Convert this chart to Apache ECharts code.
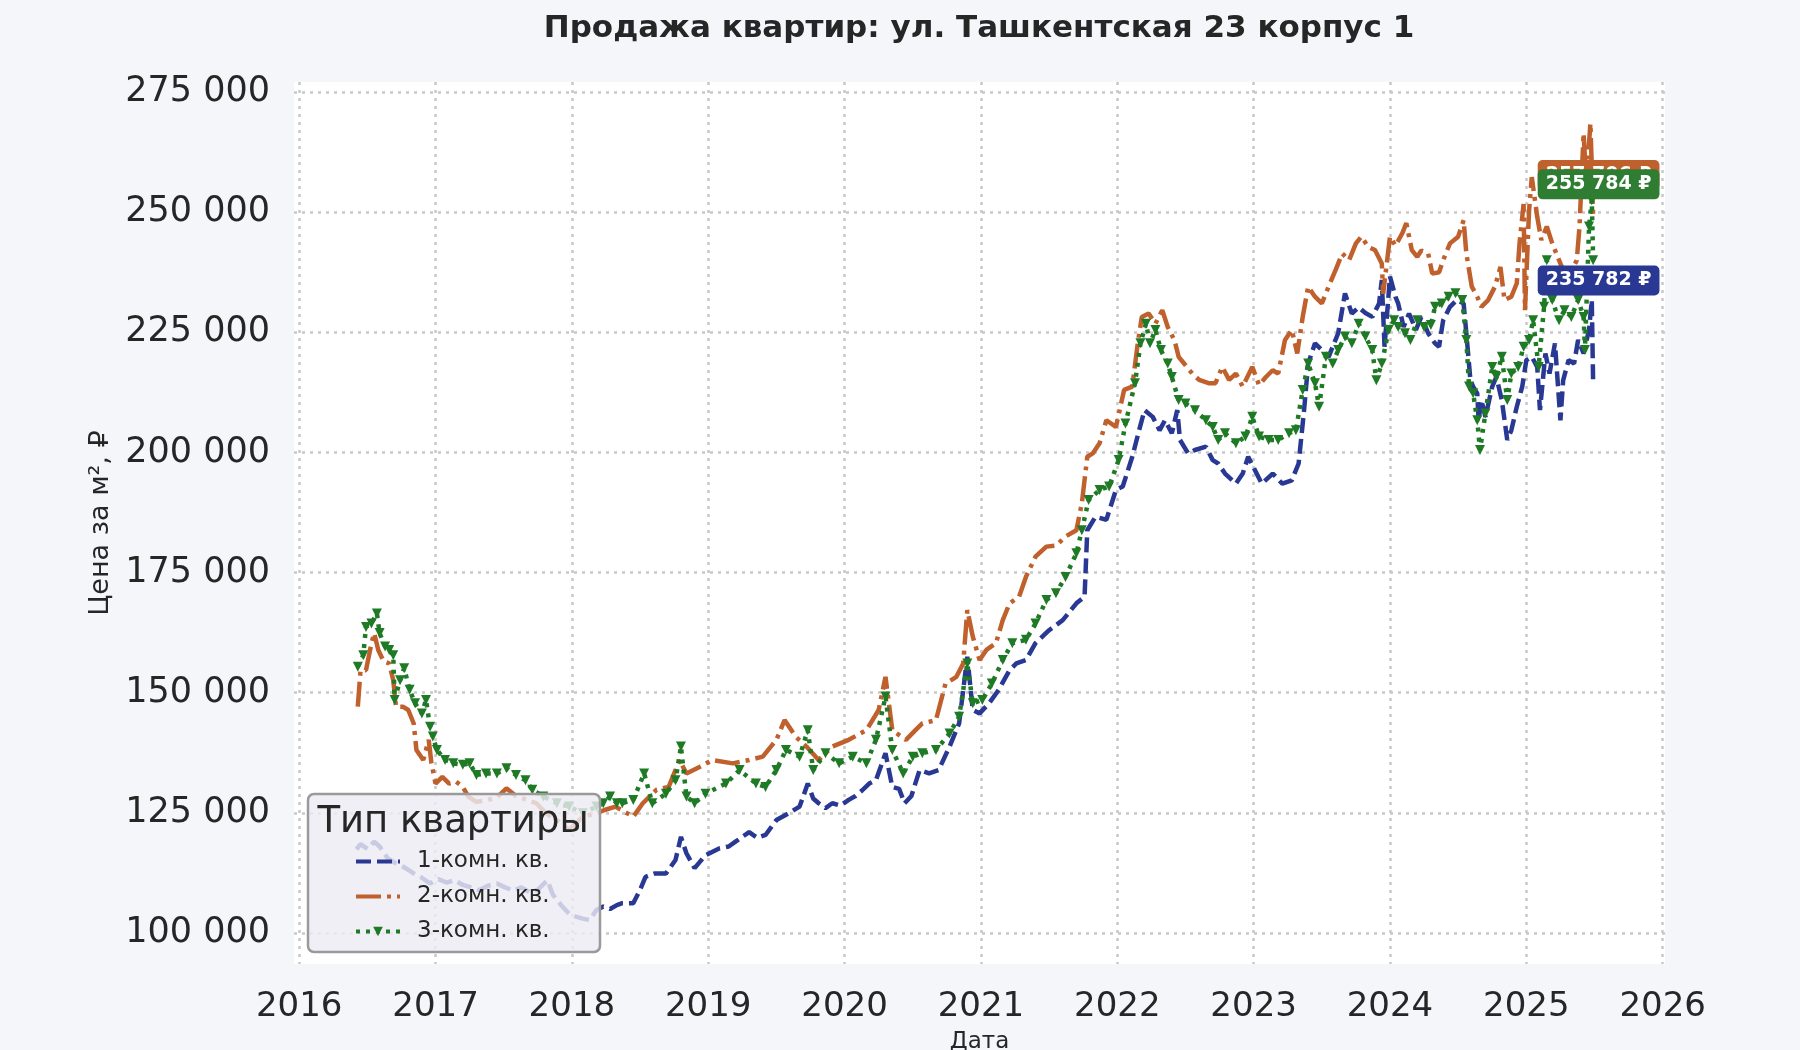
<!DOCTYPE html>
<html>
<head>
<meta charset="utf-8">
<script src="https://cdn.jsdelivr.net/npm/echarts@6/dist/echarts.min.js"></script>
<style>
html,body{margin:0;padding:0;background:#f5f6fa;}
#chart{width:1800px;height:1050px;}
</style>
</head>
<body>
<div id="chart"></div>
<script>
// ---------- DATA ----------
const seriesNames = ['1-комн. кв.', '2-комн. кв.', '3-комн. кв.'];
const xTickValues = [2016, 2017, 2018, 2019, 2020, 2021, 2022, 2023, 2024, 2025, 2026];
const yTickValues = [100000, 125000, 150000, 175000, 200000, 225000, 250000, 275000];
const lastLabels = [235782, 257706, 255784];

const dates1 = [2016.42,2016.45,2016.50,2016.55,2016.59,2016.65,2016.71,2016.78,2016.84,2016.90,2016.96,2017.02,2017.08,2017.14,2017.20,2017.26,2017.32,2017.38,2017.45,2017.51,2017.57,2017.63,2017.69,2017.75,2017.82,2017.86,2017.93,2017.98,2018.03,2018.08,2018.13,2018.18,2018.23,2018.28,2018.33,2018.37,2018.45,2018.50,2018.54,2018.61,2018.69,2018.76,2018.80,2018.84,2018.90,2018.98,2019.08,2019.15,2019.20,2019.30,2019.36,2019.42,2019.50,2019.59,2019.67,2019.73,2019.77,2019.81,2019.86,2019.91,2019.97,2020.03,2020.08,2020.13,2020.18,2020.23,2020.30,2020.35,2020.40,2020.44,2020.49,2020.55,2020.62,2020.69,2020.77,2020.84,2020.90,2020.94,2020.99,2021.06,2021.13,2021.21,2021.26,2021.33,2021.40,2021.50,2021.60,2021.70,2021.76,2021.78,2021.84,2021.92,2021.99,2022.04,2022.11,2022.16,2022.20,2022.26,2022.31,2022.35,2022.40,2022.44,2022.46,2022.52,2022.57,2022.65,2022.70,2022.74,2022.79,2022.87,2022.92,2022.96,2023.01,2023.06,2023.14,2023.21,2023.28,2023.33,2023.37,2023.40,2023.45,2023.50,2023.55,2023.62,2023.67,2023.72,2023.77,2023.82,2023.87,2023.92,2023.94,2023.96,2024.00,2024.04,2024.06,2024.10,2024.14,2024.19,2024.23,2024.28,2024.33,2024.36,2024.39,2024.44,2024.49,2024.54,2024.56,2024.59,2024.61,2024.64,2024.65,2024.67,2024.70,2024.75,2024.78,2024.82,2024.86,2024.89,2024.93,2024.97,2025.00,2025.04,2025.08,2025.10,2025.14,2025.17,2025.21,2025.25,2025.27,2025.31,2025.35,2025.38,2025.42,2025.46,2025.48,2025.49];
const values1 = [117400,118500,117500,119000,118000,115500,114500,113500,112400,111500,110300,111200,110500,111000,110000,109500,108900,109800,110300,109500,108800,109500,108500,109000,111000,108000,105500,104000,103400,103000,102700,104800,105500,105000,105800,106200,106200,109000,111700,112400,112400,115200,120000,116600,113500,116200,117600,118000,119000,121000,119800,120400,123500,124900,126300,131100,128000,127000,126000,127000,126500,127700,128500,129700,131100,131800,137400,130400,130000,127000,128500,133900,133200,133900,138800,143600,157500,146400,145700,147800,150600,154700,156100,156800,160300,163000,165100,168600,170000,183800,186600,186000,192200,192900,199100,204600,208800,207400,204600,206700,204000,208800,202600,199800,200500,201200,198400,197700,195600,193500,195600,199100,196300,193500,195600,193500,194200,197700,208800,218500,222700,221300,219900,224800,233100,228900,230200,229000,228200,231000,235900,222000,236600,232400,231000,226100,228900,225500,228200,224800,222700,222000,227500,230300,231700,231000,224800,215000,213700,212300,206700,210900,207400,213700,215700,210900,202600,204600,209500,213700,219200,219900,217800,208800,220600,216400,222700,206700,215000,219200,218500,223400,220600,225500,231700,214400];

const dates2 = [2016.43,2016.45,2016.49,2016.53,2016.55,2016.58,2016.62,2016.66,2016.69,2016.71,2016.76,2016.80,2016.84,2016.86,2016.91,2016.95,2016.97,2017.00,2017.05,2017.10,2017.15,2017.20,2017.24,2017.30,2017.37,2017.45,2017.52,2017.59,2017.66,2017.74,2017.81,2017.89,2017.98,2018.08,2018.18,2018.24,2018.32,2018.45,2018.52,2018.62,2018.71,2018.79,2018.84,2018.94,2019.03,2019.18,2019.30,2019.40,2019.50,2019.56,2019.64,2019.72,2019.81,2019.91,2020.03,2020.16,2020.25,2020.30,2020.35,2020.45,2020.52,2020.57,2020.67,2020.74,2020.82,2020.87,2020.90,2020.94,2020.99,2021.04,2021.11,2021.16,2021.21,2021.28,2021.33,2021.40,2021.48,2021.55,2021.62,2021.70,2021.74,2021.78,2021.82,2021.87,2021.92,2021.99,2022.05,2022.11,2022.15,2022.18,2022.23,2022.28,2022.33,2022.37,2022.42,2022.45,2022.49,2022.55,2022.60,2022.67,2022.72,2022.77,2022.82,2022.87,2022.92,2022.99,2023.04,2023.09,2023.14,2023.18,2023.23,2023.28,2023.32,2023.36,2023.40,2023.45,2023.50,2023.55,2023.60,2023.65,2023.70,2023.75,2023.79,2023.84,2023.89,2023.94,2023.95,2024.00,2024.04,2024.09,2024.12,2024.16,2024.20,2024.23,2024.28,2024.31,2024.36,2024.39,2024.44,2024.50,2024.54,2024.56,2024.60,2024.64,2024.67,2024.72,2024.77,2024.81,2024.84,2024.89,2024.93,2024.95,2024.98,2024.99,2025.02,2025.04,2025.08,2025.11,2025.15,2025.19,2025.22,2025.26,2025.32,2025.37,2025.39,2025.42,2025.44,2025.47,2025.48,2025.49];
const values2 = [147100,154700,154700,160300,162400,158900,156500,156100,152600,147100,147100,146400,143600,138100,136000,140200,135300,131100,132500,131100,131500,130400,128400,127300,127600,128200,130100,128500,127800,127000,124900,123500,121400,124200,124900,125600,126300,124200,127000,129800,130400,136000,133200,134600,136000,135300,136000,136700,140200,144300,140900,138800,136000,138800,140200,142200,146400,153300,142200,140200,142200,143600,144300,151900,153300,156100,167200,161700,156800,158900,160300,165100,168600,170000,174100,178300,180400,180600,182500,183800,189400,199100,199800,201900,206700,205300,213000,213700,222700,228200,228900,226800,229600,226100,223300,219900,218500,216400,215100,214400,214400,217800,215100,216400,213700,217800,214000,215700,217100,216400,223400,225500,220600,228200,234500,232400,231000,234500,237900,241400,240000,243500,244900,242800,242100,239300,233000,244900,243000,245600,247700,242100,240700,242000,241400,237200,237500,240000,243500,244900,248300,241400,234500,232400,230300,231700,234500,238600,231700,232400,235200,243500,251700,229600,250300,257300,249000,244200,247000,243500,241400,238600,237200,240000,247000,266400,256000,268500,259400,249000];

const dates3 = [2016.43,2016.47,2016.49,2016.53,2016.57,2016.59,2016.63,2016.66,2016.69,2016.70,2016.74,2016.77,2016.81,2016.85,2016.90,2016.93,2016.96,2016.98,2017.01,2017.07,2017.13,2017.20,2017.25,2017.30,2017.37,2017.45,2017.52,2017.59,2017.66,2017.71,2017.79,2017.89,2017.98,2018.08,2018.18,2018.23,2018.28,2018.33,2018.37,2018.45,2018.53,2018.59,2018.69,2018.76,2018.80,2018.84,2018.90,2018.98,2019.13,2019.23,2019.35,2019.42,2019.50,2019.57,2019.67,2019.73,2019.77,2019.86,2019.96,2020.06,2020.16,2020.23,2020.30,2020.35,2020.43,2020.50,2020.57,2020.67,2020.77,2020.84,2020.90,2020.94,2021.01,2021.08,2021.16,2021.23,2021.33,2021.40,2021.48,2021.55,2021.62,2021.70,2021.74,2021.79,2021.87,2021.94,2022.01,2022.06,2022.13,2022.17,2022.21,2022.24,2022.28,2022.32,2022.37,2022.40,2022.45,2022.50,2022.57,2022.65,2022.70,2022.74,2022.79,2022.87,2022.94,2022.99,2023.04,2023.11,2023.18,2023.26,2023.31,2023.36,2023.40,2023.45,2023.48,2023.53,2023.58,2023.62,2023.67,2023.72,2023.77,2023.82,2023.87,2023.90,2023.94,2023.99,2024.03,2024.06,2024.11,2024.15,2024.20,2024.25,2024.30,2024.33,2024.38,2024.43,2024.48,2024.53,2024.56,2024.58,2024.61,2024.64,2024.66,2024.70,2024.75,2024.78,2024.82,2024.86,2024.89,2024.94,2024.98,2025.02,2025.05,2025.09,2025.13,2025.15,2025.19,2025.24,2025.28,2025.33,2025.38,2025.42,2025.43,2025.46,2025.48,2025.49];
const values3 = [155400,157800,163700,164400,166500,162400,159600,158900,157800,148500,152600,155100,150600,147800,145700,148500,142900,140900,138100,136000,135300,135000,135300,132900,133200,133200,134300,132900,131800,129800,128400,127000,126300,124900,126300,127000,128400,127000,127000,127700,133200,127000,129000,131800,138800,128400,127000,129000,131100,133900,131100,130400,133900,138100,136700,142200,133900,137400,135300,136700,135300,140200,149200,138100,133200,136700,137400,138100,141500,145000,156100,147800,148500,151900,156800,160300,161000,164400,169300,170700,174100,179000,183800,190100,192200,192900,198400,206000,214400,222700,226800,222700,225500,221300,218500,215700,210900,210200,208800,206700,205300,202600,204000,201900,203300,207400,203300,202600,202600,204000,204600,213000,218500,214400,209500,219900,218500,221300,224100,222700,226800,224100,221300,215000,218500,225500,227500,226100,224800,223400,227500,226100,226500,230300,231000,232400,233100,231700,223400,213700,212300,206700,200500,208100,217800,215700,219900,210900,216400,217800,222000,223400,227500,217800,230300,240000,231700,227500,229600,228200,231700,228200,221300,247000,252500,240000];

// ---------- STYLE ----------
const colors = ['#283893', '#c0602c', '#1f7a25'];
const labelColors = ['#283893', '#c0602c', '#2e7d32'];
const FONT = 'DejaVu Sans';
const TXT = '#262626';

function zip(xs, ys) { return xs.map((x, i) => [x, ys[i]]); }
function fmtNum(v) { return String(Math.round(v)).replace(/\B(?=(\d{3})+(?!\d))/g, ' '); }

const dateArrays = [dates1, dates2, dates3];
const valueArrays = [values1, values2, values3];
const dashTypes = [[15, 6], [25, 6, 4, 6], [4, 6]];

const series = seriesNames.map((name, i) => {
  const ds = dateArrays[i];
  const s = {
    name: name,
    type: 'line',
    data: zip(ds, valueArrays[i]),
    color: colors[i],
    lineStyle: { width: 4.5, type: dashTypes[i], color: colors[i] },
    symbol: 'none',
    z: 2 + i,
    markPoint: {
      z: 10 + i,
      symbol: 'rect',
      symbolSize: 1,
      itemStyle: { color: 'rgba(0,0,0,0)' },
      label: {
        show: true,
        position: 'inside',
        formatter: fmtNum(lastLabels[i]) + ' ₽',
        backgroundColor: labelColors[i],
        color: '#ffffff',
        fontFamily: FONT,
        fontWeight: 'bold',
        fontSize: 19,
        padding: [6, 8, 5, 8],
        borderRadius: 5
      },
      data: [{ coord: [ds[ds.length - 1] + 0.04, lastLabels[i]] }]
    }
  };
  if (i === 2) {
    s.symbol = 'triangle';
    s.symbolRotate = 180;
    s.symbolSize = 10;
    s.showSymbol = true;
    s.showAllSymbol = true;
    s.itemStyle = { color: colors[i] };
  }
  return s;
});

const chart = echarts.init(document.getElementById('chart'), null, { renderer: 'canvas' });
chart.setOption({
  animation: false,
  backgroundColor: '#f5f6fa',
  textStyle: { fontFamily: FONT },
  title: {
    text: 'Продажа квартир: ул. Ташкентская 23 корпус 1',
    left: 974,
    top: 8,
    textAlign: 'center',
    textStyle: { fontFamily: FONT, fontSize: 31, fontWeight: 'bold', color: TXT }
  },
  grid: {
    left: 294, right: 135, top: 82, bottom: 86,
    outerBoundsMode: 'none',
    containLabel: false,
    show: true, backgroundColor: '#ffffff', borderWidth: 0
  },
  xAxis: {
    type: 'value',
    min: 2015.962,
    max: 2026.017,
    name: 'Дата',
    nameLocation: 'middle',
    nameGap: 67,
    nameTextStyle: { fontFamily: FONT, fontSize: 23, color: TXT },
    axisLine: { show: false },
    axisTick: { show: false, customValues: xTickValues },
    axisLabel: {
      customValues: xTickValues,
      fontFamily: FONT, fontSize: 34, color: TXT, margin: 26,
      formatter: v => String(Math.round(v))
    },
    splitLine: { show: true, lineStyle: { color: '#c8c8c8', width: 2.5, type: [3, 5] } }
  },
  yAxis: {
    type: 'value',
    min: 93550,
    max: 277080,
    name: 'Цена за м², ₽',
    nameLocation: 'middle',
    nameRotate: 90,
    nameGap: 176,
    nameTextStyle: { fontFamily: FONT, fontSize: 27, color: TXT },
    axisLine: { show: false },
    axisTick: { show: false, customValues: yTickValues },
    axisLabel: {
      customValues: yTickValues,
      fontFamily: FONT, fontSize: 35, color: TXT, margin: 24,
      formatter: v => fmtNum(v)
    },
    splitLine: { show: true, lineStyle: { color: '#c8c8c8', width: 2.5, type: [3, 5] } }
  },
  legend: {
    show: true,
    orient: 'vertical',
    left: 354,
    top: 850,
    padding: 0,
    itemGap: 12,
    itemWidth: 44,
    itemHeight: 12,
    lineStyle: { width: 4 },
    data: [
      { name: seriesNames[0], itemStyle: { opacity: 0 } },
      { name: seriesNames[1], itemStyle: { opacity: 0 } },
      { name: seriesNames[2] }
    ],
    textStyle: { fontFamily: FONT, fontSize: 23, color: TXT, padding: [0, 0, 0, 12] },
    z: 6
  },
  graphic: [
    {
      type: 'rect', z: 5,
      shape: { x: 308, y: 794, width: 292, height: 158, r: 6 },
      style: { fill: 'rgba(235,236,243,0.82)', stroke: '#9a9a9a', lineWidth: 2.5 }
    },
    {
      type: 'text', z: 5,
      x: 453, y: 822,
      style: { text: 'Тип квартиры', font: '37px "DejaVu Sans"', fill: TXT, textAlign: 'center', textVerticalAlign: 'middle' }
    }
  ],
  series: series
});
</script>
</body>
</html>
